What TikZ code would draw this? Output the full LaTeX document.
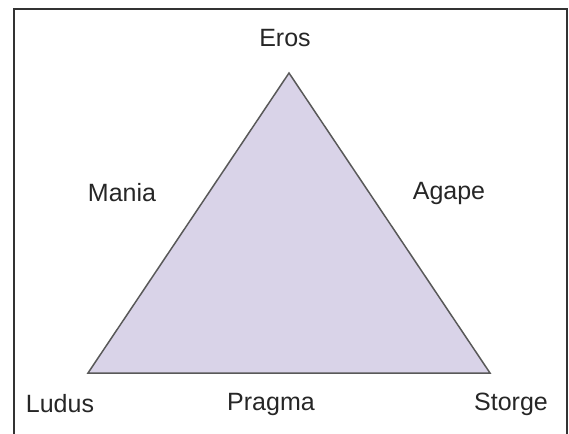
\documentclass[tikz,border=0pt]{standalone}
\usepackage{fontspec}
\setmainfont{Liberation Sans}
\begin{document}
\begin{tikzpicture}[x=1pt,y=-1pt,
  lbl/.style={font=\fontsize{25}{30}\selectfont, text=black!85, inner sep=0pt},
  tri/.style={draw=black!65, line width=1.5pt, fill=triFill, line join=miter},
  frame/.style={draw=black!80, line width=1.8pt}]
\definecolor{triFill}{HTML}{D9D3E8}
\useasboundingbox (0,0) rectangle (569,433);
\draw[frame] (14,440) -- (14,9) -- (567,9) -- (567,440);
\coordinate (A) at (289,73);
\coordinate (B) at (88,373);
\coordinate (C) at (490,373);
\draw[tri] (A) -- (B) -- (C) -- cycle;
\node[lbl] (eros) at (285,38) {Eros};
\node[lbl] (mania) at (122,193) {Mania};
\node[lbl] (agape) at (449,193) {Agape};
\node[lbl] (ludus) at (60,404) {Ludus};
\node[lbl] (pragma) at (271,404) {Pragma};
\node[lbl] (storge) at (511,404) {Storge};
\end{tikzpicture}
\end{document}
